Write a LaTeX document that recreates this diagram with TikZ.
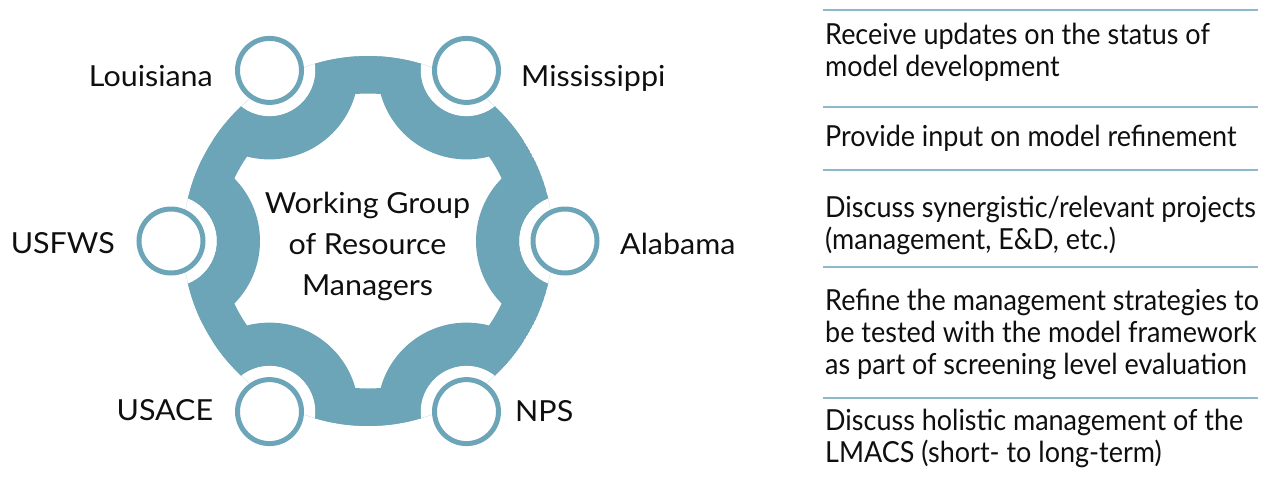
\documentclass[tikz,border=0pt]{standalone}
\usepackage{fontspec}
\setmainfont{Lato}
\newfontfamily\labfont[FakeStretch=1.05]{Lato}
\newfontfamily\itemfont[FakeStretch=0.93]{Lato}
\definecolor{ringteal}{RGB}{108,165,184}
\definecolor{rulecol}{RGB}{141,185,201}
\definecolor{txt}{RGB}{15,15,15}
\begin{document}
\begin{tikzpicture}[x=1pt,y=-1pt,
  head/.style={circle,draw=ringteal,fill=white,line width=5pt,minimum size=64pt,inner sep=0pt},
  lab/.style={inner sep=0pt,text=txt,font=\labfont\fontsize{29}{32}\selectfont},
  item/.style={inner sep=0pt,text=txt,align=left,font=\itemfont\fontsize{29}{32}\selectfont},
  rulestyle/.style={draw=rulecol,line width=2pt}]
\useasboundingbox (0,0) rectangle (1270,483);
\coordinate (C) at (368,241);
\coordinate (L) at (269.5,70.4);
\coordinate (M) at (466.5,70.4);
\coordinate (A) at (565,241);
\coordinate (N) at (466.5,411.6);
\coordinate (U) at (269.5,411.6);
\coordinate (F) at (171,241);
\begin{scope}
  \clip (C) circle[radius=185];
  \fill[ringteal,even odd rule] (C) circle[radius=185] (C) circle[radius=147.5]
    (L) circle[radius=46] (M) circle[radius=46] (A) circle[radius=46]
    (N) circle[radius=46] (U) circle[radius=46] (F) circle[radius=46];
  \foreach \p in {L,M,A,N,U,F}
    \fill[ringteal,even odd rule] (\p) circle[radius=89] (\p) circle[radius=46];
\end{scope}
\foreach \p in {L,M,A,N,U,F}
  \node[head] (h\p) at (\p) {};
\node[lab,anchor=base east] (tL) at (213,86.7) {Louisiana};
\node[lab,anchor=base west] (tM) at (521,86.7) {Mississippi};
\node[lab,anchor=base east] (tF) at (115,253.3) {USFWS};
\node[lab,anchor=base west] (tA) at (620,254.3) {Alabama};
\node[lab,anchor=base east] (tU) at (213.3,420) {USACE};
\node[lab,anchor=base west] (tN) at (515,421.7) {NPS};
\node[lab,align=center,anchor=base,font=\labfont\fontsize{29}{41}\selectfont] (ctr) at (367.5,295) {Working Group\\of Resource\\Managers};
\coordinate (r1a) at (823,10);   \coordinate (r1b) at (1258,10);
\coordinate (r2a) at (823,107);  \coordinate (r2b) at (1258,107);
\coordinate (r3a) at (823,170);  \coordinate (r3b) at (1258,170);
\coordinate (r4a) at (823,267);  \coordinate (r4b) at (1258,267);
\coordinate (r5a) at (823,398);  \coordinate (r5b) at (1258,398);
\foreach \r in {1,...,5} \draw[rulestyle] (r\r a) -- (r\r b);
\node[item,anchor=base west] (i1) at (825,76) {Receive updates on the status of\\model development};
\node[item,anchor=base west] (i2) at (825,146.7) {Provide input on model refinement};
\node[item,anchor=base west] (i3) at (825,249.7) {Discuss synergistic/relevant projects\\(management, E\&D, etc.)};
\node[item,anchor=base west] (i4) at (825,374) {Refine the management strategies to\\be tested with the model framework\\as part of screening level evaluation};
\node[item,anchor=base west] (i5) at (825,462.7) {Discuss holistic management of the\\LMACS (short- to long-term)};
\end{tikzpicture}
\end{document}
